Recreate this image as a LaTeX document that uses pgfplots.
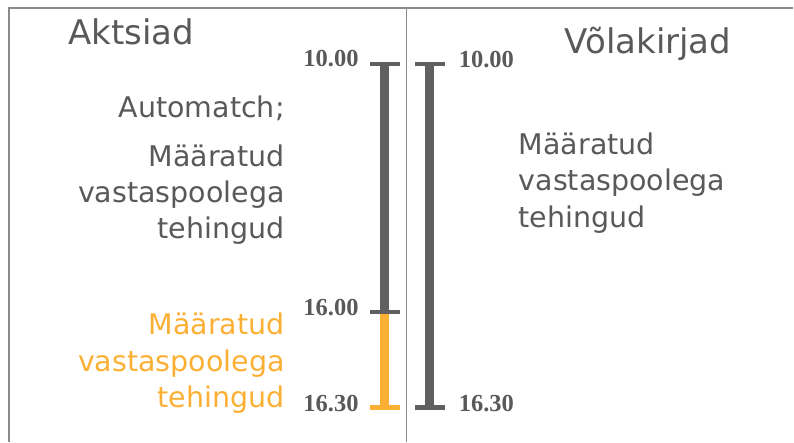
\documentclass[border=0pt]{standalone}
\usepackage{pgfplots}
\pgfplotsset{compat=1.18}
\usepackage{fontspec}
\setmainfont{DejaVu Sans}
\newfontfamily\tickfont{Liberation Serif}
\definecolor{bargray}{HTML}{606060}
\definecolor{txtgray}{HTML}{595959}
\definecolor{barorange}{HTML}{FBB034}
\definecolor{framegray}{HTML}{8A8A8A}
\begin{document}
\begin{tikzpicture}
\begin{axis}[
  width=794bp, height=442bp, scale only axis,
  xmin=0, xmax=794, ymin=0, ymax=442, y dir=reverse,
  hide axis, clip=false,
]
% bounding box of the whole picture
\path (axis cs:0,0) rectangle (axis cs:794,442);
% frame
\draw[framegray, line width=1.2bp] (axis cs:9,442) -- (axis cs:9,8) -- (axis cs:794,8);
\draw[framegray, line width=1.2bp] (axis cs:407,8) -- (axis cs:407,442);
% bars: y positions of 10.00, 16.00, 16.30
\addplot[barorange, line width=9bp, mark=-, mark size=15bp, mark indices={2},
  mark options={line width=4.5bp, solid}] coordinates {(385,312) (385,408)};
\addplot[bargray, line width=9bp, mark=-, mark size=15bp,
  mark options={line width=4.5bp, solid}] coordinates {(385,64) (385,312)};
\addplot[bargray, line width=9bp, mark=-, mark size=15bp,
  mark options={line width=4.5bp, solid}] coordinates {(430,64) (430,408)};
% tick labels
\begin{scope}[every node/.style={font=\tickfont\bfseries\fontsize{24.5bp}{24.5bp}\selectfont, text=txtgray, inner sep=0pt}]
\node[anchor=base east] at (axis cs:359,67) {10.00};
\node[anchor=base east] at (axis cs:359,316) {16.00};
\node[anchor=base east] at (axis cs:359,412) {16.30};
\node[anchor=base west] at (axis cs:459,68) {10.00};
\node[anchor=base west] at (axis cs:459,412) {16.30};
\end{scope}
% titles
\begin{scope}[every node/.style={font=\fontsize{34bp}{40bp}\selectfont, text=txtgray, inner sep=0pt}]
\node[anchor=base west] at (axis cs:68,45) {Aktsiad};
\node[anchor=base west] at (axis cs:565,54) {Võlakirjad};
\end{scope}
% descriptions
\begin{scope}[every node/.style={font=\fontsize{28.5bp}{36bp}\selectfont, inner sep=0pt}]
\node[anchor=base east, text=txtgray] at (axis cs:285,118) {Automatch;};
\node[anchor=base east, text=txtgray] at (axis cs:285,167) {Määratud};
\node[anchor=base east, text=txtgray] at (axis cs:285,203) {vastaspoolega};
\node[anchor=base east, text=txtgray] at (axis cs:285,239) {tehingud};
\node[anchor=base east, text=barorange] at (axis cs:285,335) {Määratud};
\node[anchor=base east, text=barorange] at (axis cs:285,372) {vastaspoolega};
\node[anchor=base east, text=barorange] at (axis cs:285,408) {tehingud};
\node[anchor=base west, text=txtgray] at (axis cs:519,155) {Määratud};
\node[anchor=base west, text=txtgray] at (axis cs:519,191) {vastaspoolega};
\node[anchor=base west, text=txtgray] at (axis cs:519,228) {tehingud};
\end{scope}
\end{axis}
\end{tikzpicture}
\end{document}
